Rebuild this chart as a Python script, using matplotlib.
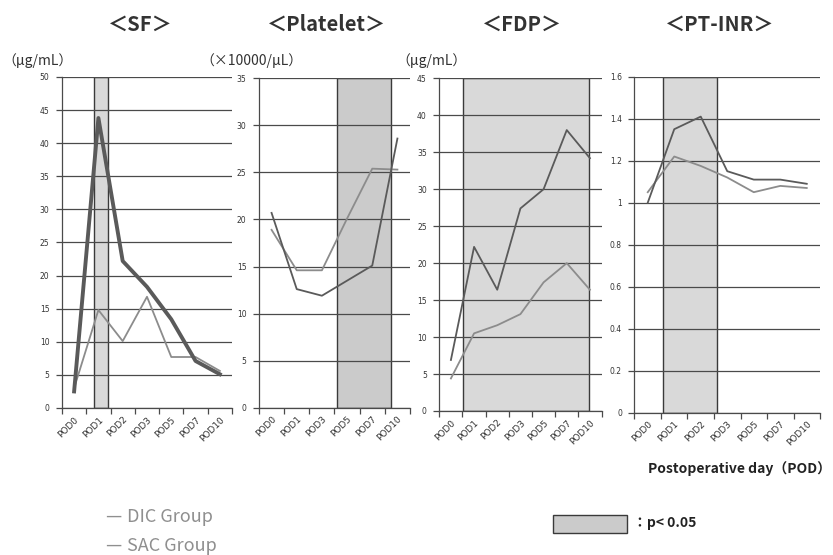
import numpy as np
import matplotlib.pyplot as plt
from matplotlib.patches import Rectangle

plt.rcParams['font.family'] = ['Noto Sans CJK JP', 'DejaVu Sans']

# values per postoperative day
sf_days = ['POD0', 'POD1', 'POD2', 'POD3', 'POD5', 'POD7', 'POD10']
sf_dic = [2.5, 43.8, 22.2, 18.3, 13.4, 7.1, 5.1]
sf_sac = [3.0, 14.8, 10.1, 16.8, 7.7, 7.7, 5.6]

plt_days = ['POD0', 'POD1', 'POD3', 'POD5', 'POD7', 'POD10']
plt_dic = [20.7, 12.6, 11.9, 13.5, 15.1, 28.6]
plt_sac = [18.9, 14.6, 14.6, 20.1, 25.4, 25.3]

fdp_days = ['POD0', 'POD1', 'POD2', 'POD3', 'POD5', 'POD7', 'POD10']
fdp_dic = [6.9, 22.2, 16.4, 27.4, 30.0, 38.0, 34.2]
fdp_sac = [4.4, 10.5, 11.6, 13.1, 17.4, 20.0, 16.4]

inr_days = ['POD0', 'POD1', 'POD2', 'POD3', 'POD5', 'POD7', 'POD10']
inr_dic = [1.00, 1.35, 1.41, 1.15, 1.11, 1.11, 1.09]
inr_sac = [1.05, 1.22, 1.175, 1.12, 1.05, 1.08, 1.07]

DIC_C = '#5a5a5a'
SAC_C = '#8c8c8c'
GRID_C = '#4a4a4a'

fig = plt.figure(figsize=(8.33, 5.55), dpi=100)


def panel(rect, days, dic, sac, ymax, ystep, span, shade, dic_lw=1.3, yfmt='{:g}'):
    ax = fig.add_axes(rect)
    n = len(days)
    x = np.arange(n)
    ax.set_xlim(-0.5, n - 0.5)
    ax.set_ylim(0, ymax)
    yt = np.arange(0, ymax + ystep / 2, ystep)
    ax.set_yticks(yt)
    ax.set_yticklabels([yfmt.format(round(v, 2)) for v in yt], fontsize=5.5,
                       color='#333333', family='DejaVu Sans')
    ax.yaxis.grid(True, color=GRID_C, lw=0.9, zorder=1)
    ax.set_axisbelow(True)
    # category labels at centres, tick marks on category boundaries
    ax.set_xticks(x)
    ax.set_xticklabels(days, rotation=45, ha='right', rotation_mode='anchor',
                       fontsize=6.5, color='#333333', family='DejaVu Sans')
    ax.tick_params(axis='x', which='major', length=0, pad=5)
    ax.set_xticks(np.arange(n + 1) - 0.5, minor=True)
    ax.tick_params(axis='x', which='minor', length=4, width=0.9, color=GRID_C)
    ax.tick_params(axis='y', length=4, width=0.9, color=GRID_C, pad=5)
    for s in ['top', 'right']:
        ax.spines[s].set_visible(False)
    for s in ['left', 'bottom']:
        ax.spines[s].set_color(GRID_C)
        ax.spines[s].set_linewidth(0.9)
    # significant interval
    ax.add_patch(Rectangle((span[0], 0), span[1] - span[0], ymax,
                           facecolor=shade, edgecolor='#3a3a3a', lw=1.0,
                           zorder=0.5))
    ax.plot(x, sac, color=SAC_C, lw=1.3, zorder=3)
    ax.plot(x, dic, color=DIC_C, lw=dic_lw, zorder=4)
    return ax


panel([0.0744, 0.2649, 0.2041, 0.5964], sf_days, sf_dic, sf_sac, 50, 5,
      (0.82, 1.39), '#d9d9d9', dic_lw=2.8)
panel([0.3109, 0.2654, 0.1813, 0.5935], plt_days, plt_dic, plt_sac, 35, 5,
      (2.60, 4.74), '#cbcbcb')
panel([0.5274, 0.2595, 0.1947, 0.5994], fdp_days, fdp_dic, fdp_sac, 45, 5,
      (0.54, 5.97), '#d9d9d9')
panel([0.7617, 0.2564, 0.2227, 0.6054], inr_days, inr_dic, inr_sac, 1.6, 0.2,
      (0.59, 2.60), '#d9d9d9')

W, H = 833, 555


def ftext(px, py, s, **kw):
    fig.text(px / W, 1 - py / H, s, **kw)


title_kw = dict(fontsize=14.5, fontweight='bold', color='#333333',
                ha='center', va='center')
ftext(140, 24, '＜SF＞', **title_kw)
ftext(327, 24, '＜Platelet＞', **title_kw)
ftext(522, 24, '＜FDP＞', **title_kw)
ftext(720, 24, '＜PT-INR＞', **title_kw)

unit_kw = dict(fontsize=10, color='#333333', ha='left', va='center')
ftext(2, 61, '（μg/mL）', **unit_kw)
ftext(200, 61, '（×10000/μL）', **unit_kw)
ftext(396, 61, '（μg/mL）', **unit_kw)

ftext(831, 469, 'Postoperative day（POD）', fontsize=10, fontweight='bold',
      color='#222222', ha='right', va='center')

# legend
leg_kw = dict(fontsize=13, color='#8f8f8f', ha='left', va='center')
ftext(105, 517, '—', **leg_kw)
ftext(127, 517, 'DIC Group', **leg_kw)
ftext(105, 546, '—', **leg_kw)
ftext(127, 546, 'SAC Group', **leg_kw)

fig.patches.append(Rectangle((553 / W, 1 - 533 / H), 74 / W, 18 / H,
                             transform=fig.transFigure, facecolor='#cbcbcb',
                             edgecolor='#3a3a3a', lw=1.0))
ftext(633, 523, '：p< 0.05', fontsize=10, fontweight='bold', color='#222222',
      ha='left', va='center')

fig.savefig('out.png', dpi=100)
